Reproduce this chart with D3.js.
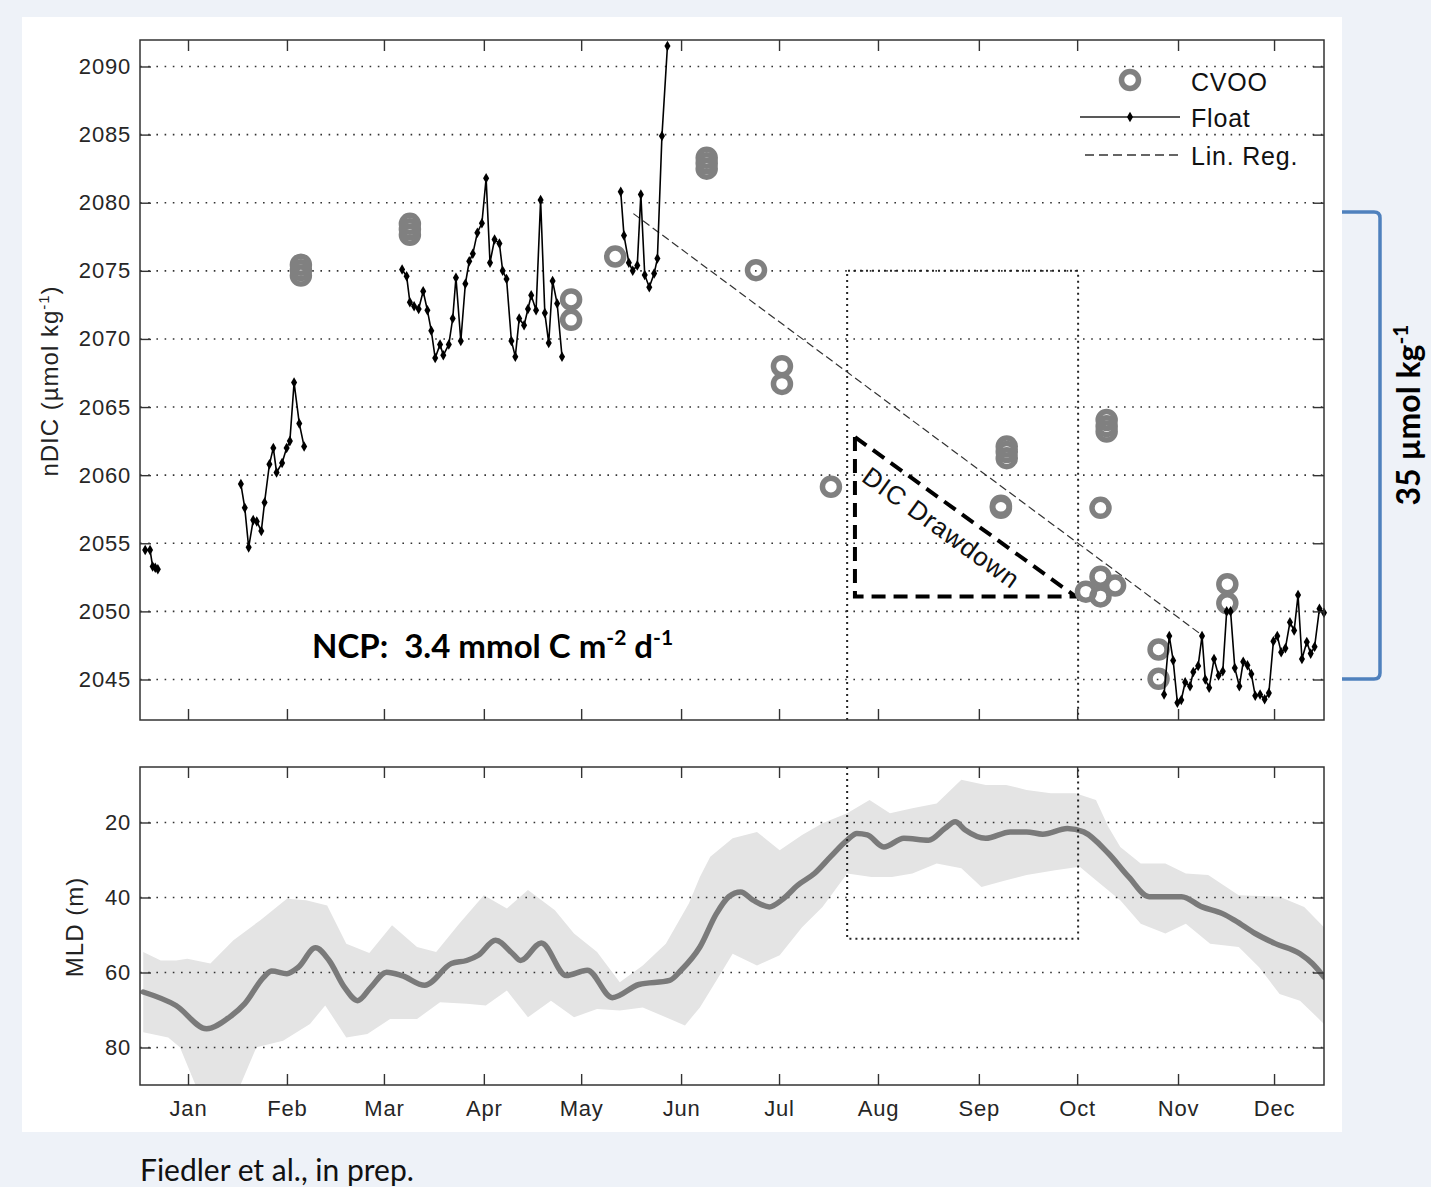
<!DOCTYPE html>
<html><head><meta charset="utf-8">
<script src="https://cdn.jsdelivr.net/npm/d3@7"></script>
<style>body{margin:0;background:#eef2f8;} svg{display:block}</style>
</head><body>
<svg id="chart" width="1431" height="1187"></svg>
<script>
// ---------------- DATA ----------------
const monthLabels = ["Jan","Feb","Mar","Apr","May","Jun","Jul","Aug","Sep","Oct","Nov","Dec"];
const monthTickDays = [14.8, 45.3, 75.2, 106, 136, 166.8, 197, 227.5, 258.6, 288.9, 320, 349.6];
const dicTicks = [2045, 2050, 2055, 2060, 2065, 2070, 2075, 2080, 2085, 2090];
const mldTicks = [20, 40, 60, 80];

// Float nDIC (null = gap between deployments)
const floatDays = [
  1.6, 3.1, 3.9, 4.7, 5.5, null,
  31.1, 32.3, 33.5, 34.9, 36.0, 37.4, 38.4, 39.9, 41.1, 42.1, 43.8, 45.2, 46.2, 47.5, 49.1, 50.6, null,
  80.8, 82.2, 83.2, 84.5, 85.9, 87.3, 88.6, 89.8, 91.0, 92.5, 93.5, 95.2, 96.4, 97.4, 98.9, 100.3, 101.5, 102.6, 104.0, 105.4,
  106.7, 107.9, 109.3, 110.8, 111.8, 113.0, 114.5, 115.7, 116.9, 118.4, 119.6, 120.6, 122.1, 123.5, 124.8, 126.0, 127.2, 128.6, 130.1, null,
  148.2, 149.2, 150.7, 151.9, 153.3, 154.4, 155.6, 157.0, 158.5, 159.5, 160.9, 162.6, null,
  315.7, 317.3, 318.5, 319.8, 321.0, 322.2, 323.7, 324.7, 326.2, 327.4, 328.4, 329.6, 331.1, 332.5, 333.8, 335.0, 336.2, 337.5, 338.9, 340.1,
  341.4, 342.6, 343.8, 345.3, 346.7, 348.0, 349.4, 350.6, 351.8, 353.1, 354.5, 355.8, 357.0, 358.2, 359.7, 360.9, 362.1, 363.6, 365.0
];
const floatValues = [
  2054.5, 2054.5, 2053.3, 2053.2, 2053.1, null,
  2059.35, 2057.6, 2054.7, 2056.7, 2056.6, 2055.9, 2058.0, 2060.8, 2062.0, 2060.2, 2060.9, 2062.0, 2062.5, 2066.8, 2063.8, 2062.1, null,
  2075.1, 2074.6, 2072.7, 2072.4, 2072.2, 2073.5, 2072.1, 2070.6, 2068.6, 2069.6, 2068.8, 2069.6, 2071.5, 2074.5, 2069.85, 2074.05, 2075.7, 2076.25, 2077.8, 2078.5,
  2081.8, 2075.6, 2077.3, 2077.0, 2075.0, 2074.4, 2069.85, 2068.7, 2071.5, 2071.0, 2072.2, 2073.2, 2072.1, 2080.2, 2071.9, 2069.7, 2074.25, 2072.6, 2068.7, null,
  2080.8, 2077.6, 2075.6, 2075.0, 2075.4, 2080.6, 2074.7, 2073.8, 2074.8, 2075.9, 2084.9, 2091.5, null,
  2043.9, 2048.2, 2046.4, 2043.3, 2043.5, 2044.8, 2044.5, 2045.55, 2046.0, 2048.2, 2045.0, 2044.4, 2046.5, 2045.3, 2045.6, 2050.0, 2050.0, 2045.85, 2044.5, 2046.3,
  2046.05, 2045.4, 2043.8, 2043.9, 2043.55, 2044.0, 2047.8, 2048.2, 2047.0, 2047.3, 2049.2, 2048.6, 2051.2, 2046.5, 2047.75, 2046.9, 2047.4, 2050.2, 2049.9
];

// CVOO ship samples
const cvooDays = [49.6, 49.6, 49.6, 83.2, 83.2, 83.2, 132.9, 132.9, 146.5, 174.7, 174.7, 174.7, 189.9, 197.9, 197.9, 213.0,
  265.4, 265.4, 267.2, 267.2, 267.2, 291.6, 296.1, 296.1, 296.1, 298.0, 298.0, 298.0, 300.6, 314.0, 314.0, 335.2, 335.2];
const cvooValues = [2075.45, 2075.05, 2074.65, 2078.45, 2078.05, 2077.65, 2072.9, 2071.4, 2076.05, 2083.3, 2082.9, 2082.5, 2075.05, 2068.0, 2066.7, 2059.15,
  2057.75, 2057.6, 2062.1, 2061.7, 2061.25, 2051.45, 2052.55, 2051.1, 2057.6, 2064.05, 2063.6, 2063.2, 2051.9, 2047.2, 2045.05, 2052.0, 2050.6];

// Linear regression
const regDays = [152.1, 327.7];
const regValues = [2079.2, 2048.2];

// DIC drawdown triangle
const triDays = [220.4, 220.4, 288.4];
const triValues = [2062.8, 2051.1, 2051.1];

// Stratified period box
const boxDays = [218.0, 289.2];
const boxDIC = 2075;
const boxMLD = 51;

// MLD mean and spread
const mldDays = [1.0, 11.1, 20.5, 27.6, 32.3, 38.2, 40.6, 45.3, 48.8, 54.1, 58.3, 63.0, 67.1, 71.2, 76.0, 80.7, 87.8, 96.0, 100.7, 104.3,
  109.6, 114.9, 117.3, 123.7, 131.4, 137.9, 145.6, 153.8, 163.3, 166.8, 172.6, 177.7, 181.5, 185.2, 189.0, 194.0, 197.8, 202.8, 207.9, 212.9,
  218.0, 221.0, 224.2, 229.3, 235.5, 243.1, 248.1, 251.3, 254.4, 260.7, 268.3, 273.3, 278.3, 285.9, 290.9, 298.5, 304.8, 311.1, 321.1, 327.4,
  333.7, 337.5, 343.8, 350.0, 357.6, 361.4, 365.0];
const mldValues = [65.2, 68.8, 75.0, 71.9, 68.3, 61.2, 59.6, 60.3, 58.6, 53.4, 56.8, 63.9, 67.5, 63.9, 59.9, 60.8, 63.4, 57.6, 56.8, 55.4,
  51.4, 55.0, 56.8, 52.1, 60.8, 59.4, 66.7, 63.2, 62.1, 59.4, 53.2, 44.3, 39.8, 38.5, 40.7, 42.5, 40.7, 36.7, 33.6, 29.1,
  24.7, 22.9, 23.3, 26.5, 24.2, 24.7, 21.6, 19.8, 22.0, 24.2, 22.5, 22.5, 23.1, 21.6, 22.5, 28.2, 34.5, 39.8, 39.8, 42.5,
  44.3, 46.1, 49.6, 52.3, 55.0, 57.6, 61.2];
const bandUpDays = [1.0, 6.4, 11.1, 14.6, 21.7, 28.8, 37.0, 45.3, 51.2, 57.7, 63.6, 70.7, 77.7, 85.4, 91.3, 98.4, 106.0, 113.1, 119.6, 127.9,
  133.8, 140.9, 147.9, 155.0, 162.1, 169.2, 172.6, 175.8, 182.7, 190.2, 197.2, 204.1, 210.4, 218.0, 224.9, 231.2, 238.1, 245.6, 253.2, 260.7,
  267.0, 273.3, 280.8, 288.4, 294.7, 298.5, 302.2, 308.5, 316.1, 322.4, 329.3, 338.7, 351.3, 358.9, 365.0];
const bandUpValues = [54.5, 56.8, 56.8, 56.3, 57.6, 51.4, 46.1, 40.3, 40.7, 42.1, 52.3, 54.8, 47.4, 53.2, 54.5, 47.0, 39.4, 42.9, 38.0, 43.4,
  49.6, 54.5, 62.6, 58.1, 52.3, 41.6, 34.5, 29.1, 24.2, 22.5, 27.4, 23.3, 20.2, 17.5, 14.0, 17.5, 16.2, 14.9, 8.6, 10.0,
  10.0, 11.3, 12.2, 12.2, 14.0, 21.1, 26.5, 30.9, 30.9, 33.6, 34.0, 39.4, 39.8, 42.5, 47.9];
const bandLoDays = [1.0, 8.7, 12.3, 19.5, 28.5, 35.9, 44.1, 52.4, 57.1, 63.6, 70.1, 77.1, 85.4, 92.5, 100.7, 106.6, 113.1, 119.6, 126.7, 133.8,
  140.9, 147.9, 155.0, 162.1, 168.0, 172.6, 177.7, 182.7, 190.2, 197.2, 204.1, 210.4, 218.0, 225.5, 231.8, 238.1, 245.6, 253.2, 259.4, 267.0,
  273.3, 282.1, 289.7, 294.7, 302.2, 308.5, 316.1, 322.4, 329.9, 338.7, 345.0, 351.3, 357.6, 365.0];
const bandLoValues = [75.9, 77.3, 79.9, 95, 95, 79.9, 78.2, 73.7, 68.8, 77.3, 76.4, 72.4, 72.4, 67.9, 68.3, 68.8, 64.8, 71.9, 67.5, 71.9,
  69.7, 70.1, 69.3, 71.9, 74.1, 69.3, 62.1, 55.0, 58.1, 55.4, 47.9, 42.5, 33.6, 34.5, 34.5, 33.6, 30.9, 32.2, 37.2, 35.4,
  34.0, 32.7, 31.8, 35.4, 40.7, 47.0, 49.6, 47.0, 52.3, 53.2, 58.6, 65.7, 67.5, 73.7];

// ---------------- DRAWING ----------------
const W = 1431, H = 1187;
const svg = d3.select('#chart');
svg.append('rect').attr('width', W).attr('height', H).attr('fill', '#eef2f8');
svg.append('rect').attr('x', 22).attr('y', 17).attr('width', 1320).attr('height', 1115).attr('fill', '#ffffff');

const PL = 140, PR = 1324, T0 = 40, T1 = 720, B0 = 767, B1 = 1085;
const x = d3.scaleLinear().domain([0, 365]).range([PL, PR]);
const yT = d3.scaleLinear().domain([2045, 2090]).range([679.5, 66.5]);
const yB = d3.scaleLinear().domain([20, 80]).range([822.5, 1047.5]);

const defs = svg.append('defs');
defs.append('clipPath').attr('id', 'clipT').append('rect').attr('x', PL).attr('y', T0).attr('width', PR - PL).attr('height', T1 - T0);
defs.append('clipPath').attr('id', 'clipB').append('rect').attr('x', PL).attr('y', B0).attr('width', PR - PL).attr('height', B1 - B0);

const TICKFONT = '"Liberation Sans", Arial, sans-serif';
const LATO = 'Lato, "Open Sans", sans-serif';
function dotted(sel) {
  return sel.attr('stroke', '#333').attr('stroke-width', 1.6).attr('stroke-dasharray', '1.6,6.6').attr('fill', 'none');
}
function boxDots(sel) {
  return sel.attr('stroke', '#222').attr('stroke-width', 2).attr('stroke-dasharray', '2,4').attr('fill', 'none');
}

// ===== Bottom panel (MLD) =====
const gB = svg.append('g');
const bandPts = bandUpDays.map((d, i) => [d, bandUpValues[i]])
  .concat(bandLoDays.map((d, i) => [d, bandLoValues[i]]).reverse());
gB.append('path')
  .attr('clip-path', 'url(#clipB)')
  .attr('d', d3.line().x(d => x(d[0])).y(d => yB(d[1]))(bandPts) + 'Z')
  .attr('fill', '#e4e4e4');
mldTicks.forEach(t => {
  gB.append('line').attr('x1', PL).attr('x2', PR).attr('y1', yB(t)).attr('y2', yB(t)).call(dotted);
});
gB.append('path')
  .attr('clip-path', 'url(#clipB)')
  .attr('d', d3.line().curve(d3.curveMonotoneX).x(d => x(d)).y((d, i) => yB(mldValues[i]))(mldDays))
  .attr('fill', 'none').attr('stroke', '#7a7a7a').attr('stroke-width', 5.5).attr('stroke-linecap', 'round').attr('stroke-linejoin', 'round');
gB.append('path')
  .attr('d', d3.line()([[x(boxDays[0]), B0], [x(boxDays[0]), yB(boxMLD)], [x(boxDays[1]), yB(boxMLD)], [x(boxDays[1]), B0]]))
  .call(boxDots);

// ===== Top panel (nDIC) =====
const gT = svg.append('g');
dicTicks.forEach(t => {
  gT.append('line').attr('x1', PL).attr('x2', PR).attr('y1', yT(t)).attr('y2', yT(t)).call(dotted);
});
gT.append('path')
  .attr('d', d3.line()([[x(boxDays[0]), T1], [x(boxDays[0]), yT(boxDIC)], [x(boxDays[1]), yT(boxDIC)], [x(boxDays[1]), T1]]))
  .call(boxDots);

gT.append('path')
  .attr('d', d3.line().x(d => x(d)).y((d, i) => yT(regValues[i]))(regDays))
  .attr('fill', 'none').attr('stroke', '#333').attr('stroke-width', 1.2).attr('stroke-dasharray', '8,4');

gT.append('path')
  .attr('d', d3.line().x(d => x(d)).y((d, i) => yT(triValues[i]))(triDays) + 'Z')
  .attr('fill', 'none').attr('stroke', '#000').attr('stroke-width', 4).attr('stroke-dasharray', '14,8').attr('stroke-linejoin', 'miter');

{
  const x0 = x(triDays[0]), y0 = yT(triValues[0]), x1 = x(triDays[2]), y1 = yT(triValues[2]);
  const ang = Math.atan2(y1 - y0, x1 - x0) * 180 / Math.PI;
  const cx = (x0 + x1) / 2 - 24, cy = (y0 + y1) / 2 + 11;
  gT.append('text').attr('transform', `translate(${cx},${cy}) rotate(${ang})`)
    .attr('text-anchor', 'middle').attr('y', 9)
    .attr('font-family', TICKFONT).attr('font-size', 26).attr('letter-spacing', 1).attr('fill', '#111')
    .text('DIC Drawdown');
}

gT.append('g').selectAll('circle').data(cvooDays.map((d, i) => [d, cvooValues[i]])).join('circle')
  .attr('cx', d => x(d[0])).attr('cy', d => yT(d[1])).attr('r', 8.5)
  .attr('fill', 'none').attr('stroke', '#808080').attr('stroke-width', 5.5);

const floatPts = floatDays.map((d, i) => ({ d: d, v: floatValues[i] }));
gT.append('path')
  .attr('d', d3.line().defined(p => p.v != null).x(p => x(p.d)).y(p => yT(p.v))(floatPts))
  .attr('fill', 'none').attr('stroke', '#000').attr('stroke-width', 1.6);
gT.append('g').selectAll('path').data(floatPts.filter(p => p.v != null)).join('path')
  .attr('transform', p => `translate(${x(p.d)},${yT(p.v)})`)
  .attr('d', d3.symbol(d3.symbolDiamond, 32)).attr('fill', '#000');

const ncp = gT.append('text').attr('x', 312).attr('y', 658).attr('xml:space', 'preserve')
  .attr('font-family', LATO).attr('font-weight', 'bold').attr('font-size', 33).attr('fill', '#000');
ncp.append('tspan').text('NCP:\u00a0\u00a03.4 mmol C m');
ncp.append('tspan').attr('dy', -13).attr('font-size', 21).text('-2');
ncp.append('tspan').attr('dy', 13).text('\u00a0d');
ncp.append('tspan').attr('dy', -13).attr('font-size', 21).text('-1');

// Legend
const lg = svg.append('g');
lg.append('circle').attr('cx', 1130).attr('cy', 80).attr('r', 8.5).attr('fill', 'none').attr('stroke', '#808080').attr('stroke-width', 5.5);
lg.append('line').attr('x1', 1080).attr('x2', 1180).attr('y1', 117).attr('y2', 117).attr('stroke', '#222').attr('stroke-width', 1.5);
lg.append('path').attr('transform', 'translate(1130,117)').attr('d', d3.symbol(d3.symbolDiamond, 32)).attr('fill', '#000');
lg.append('line').attr('x1', 1085).attr('x2', 1180).attr('y1', 155).attr('y2', 155).attr('stroke', '#333').attr('stroke-width', 1.3).attr('stroke-dasharray', '9,5');
[['CVOO', 91], ['Float', 127], ['Lin. Reg.', 165]].forEach(([t, yy]) => {
  lg.append('text').attr('x', 1191).attr('y', yy).attr('font-family', TICKFONT).attr('font-size', 25)
    .attr('letter-spacing', 0.8).attr('fill', '#111').text(t);
});

// ===== Axes & frames =====
function drawAxes(yScale, yTicks, y0, y1, showLabels) {
  const g = svg.append('g');
  g.append('g').attr('transform', `translate(${PL},0)`)
    .call(d3.axisLeft(yScale).tickValues(yTicks).tickSize(-11).tickPadding(9).tickFormat(d3.format('d')));
  g.append('g').attr('transform', `translate(${PR},0)`)
    .call(d3.axisRight(yScale).tickValues(yTicks).tickSize(-11).tickFormat(''));
  g.append('g').attr('transform', `translate(0,${y0})`)
    .call(d3.axisTop(x).tickValues(monthTickDays).tickSize(-11).tickFormat(''));
  g.append('g').attr('transform', `translate(0,${y1})`)
    .call(d3.axisBottom(x).tickValues(monthTickDays).tickSize(-11).tickPadding(15)
      .tickFormat((d, i) => showLabels ? monthLabels[i] : ''));
  g.selectAll('.domain').remove();
  g.selectAll('.tick line').attr('stroke', '#333').attr('stroke-width', 1.4);
  g.selectAll('.tick text').attr('font-family', TICKFONT).attr('font-size', 22).attr('letter-spacing', 0.8).attr('fill', '#262626');
  g.append('rect').attr('x', PL).attr('y', y0).attr('width', PR - PL).attr('height', y1 - y0)
    .attr('fill', 'none').attr('stroke', '#333').attr('stroke-width', 1.5);
}
drawAxes(yT, dicTicks, T0, T1, false);
drawAxes(yB, mldTicks, B0, B1, true);

const t1 = svg.append('text').attr('transform', 'translate(58,381) rotate(-90)').attr('text-anchor', 'middle')
  .attr('font-family', TICKFONT).attr('font-size', 24).attr('letter-spacing', 1).attr('fill', '#222');
t1.append('tspan').text('nDIC (µmol kg');
t1.append('tspan').attr('dy', -9).attr('font-size', 15).text('-1');
t1.append('tspan').attr('dy', 9).text(')');
svg.append('text').attr('transform', 'translate(83,927) rotate(-90)').attr('text-anchor', 'middle')
  .attr('font-family', TICKFONT).attr('font-size', 24).attr('letter-spacing', 1).attr('fill', '#222').text('MLD (m)');

svg.append('path').attr('d', 'M1342,212 L1374,212 Q1380,212 1380,218 L1380,673 Q1380,679 1374,679 L1342,679')
  .attr('fill', 'none').attr('stroke', '#4f81bd').attr('stroke-width', 3.5);
const ann = svg.append('text').attr('transform', 'translate(1420,415) rotate(-90)').attr('text-anchor', 'middle')
  .attr('font-family', LATO).attr('font-weight', 'bold').attr('font-size', 32).attr('fill', '#000');
ann.append('tspan').text('35 µmol kg');
ann.append('tspan').attr('dy', -12).attr('font-size', 21).text('-1');

svg.append('text').attr('x', 140).attr('y', 1181).attr('font-family', LATO)
  .attr('font-size', 30).attr('fill', '#111').text('Fiedler et al., in prep.');
</script>
</body></html>
